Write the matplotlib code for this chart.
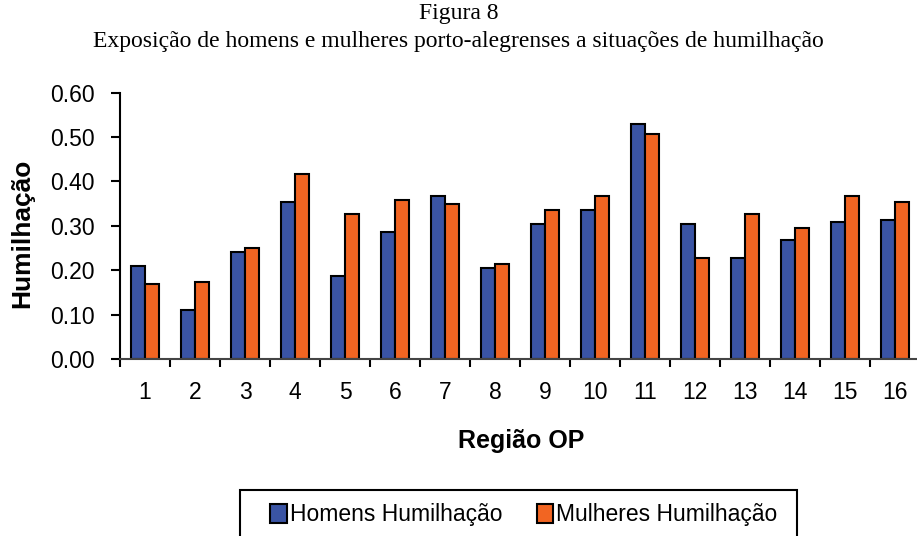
import matplotlib.pyplot as plt
import numpy as np
from matplotlib.patches import Rectangle

regioes = [str(i) for i in range(1, 17)]
homens = [0.210, 0.111, 0.242, 0.353, 0.188, 0.286, 0.367, 0.205,
          0.304, 0.336, 0.529, 0.304, 0.228, 0.268, 0.309, 0.313]
mulheres = [0.170, 0.174, 0.251, 0.416, 0.327, 0.358, 0.349, 0.215,
            0.336, 0.367, 0.507, 0.228, 0.327, 0.296, 0.367, 0.354]
yticks = [0.0, 0.1, 0.2, 0.3, 0.4, 0.5, 0.6]

azul = "#3A54A4"
laranja = "#F26522"
sans = "Liberation Sans"

W, H = 917, 536
fig = plt.figure(figsize=(W / 100, H / 100), dpi=100)
ax = fig.add_axes([120 / W, 1 - 359 / H, 800 / W, (359 - 92.7) / H])

x = np.arange(len(regioes))
bw = 0.28
ax.bar(x - bw / 2, homens, bw, color=azul, edgecolor="black", linewidth=1.5,
       label="Homens Humilhação")
ax.bar(x + bw / 2, mulheres, bw, color=laranja, edgecolor="black", linewidth=1.5,
       label="Mulheres Humilhação")

ax.set_xlim(-0.5, len(regioes) - 0.5)
ax.set_ylim(0, 0.6)
ax.set_yticks(yticks)
ax.set_yticklabels([f"{v:.2f}" for v in yticks], fontfamily=sans, fontsize=16.5)
ax.set_xticks(x)
ax.set_xticklabels(regioes, fontfamily=sans, fontsize=16.5)
ax.set_xticks(np.arange(len(regioes)) - 0.5, minor=True)
ax.tick_params(axis="x", which="major", length=0, pad=16)
ax.tick_params(axis="x", which="minor", length=6, width=1.5, direction="out")
ax.tick_params(axis="y", length=6.5, width=1.5, direction="out", pad=12)

for s in ["top", "right"]:
    ax.spines[s].set_visible(False)
ax.spines["left"].set_linewidth(1.5)
ax.spines["bottom"].set_linewidth(1.5)
ax.spines["bottom"].set_color("#444444")

fig.text(521 / W, 1 - 441 / H, "Região OP", ha="center", va="center",
         fontfamily=sans, fontsize=18, fontweight="bold")
fig.text(22 / W, 1 - 233 / H, "Humilhação", ha="center", va="center", rotation=90,
         fontfamily=sans, fontsize=19, fontweight="bold")

fig.text(0.5, 1 - 14 / H, "Figura 8", ha="center", va="center",
         fontfamily="Liberation Serif", fontsize=17)
fig.text(0.5, 1 - 41 / H,
         "Exposição de homens e mulheres porto-alegrenses a situações de humilhação",
         ha="center", va="center", fontfamily="Liberation Serif", fontsize=17)

# legend box (bottom cut off by figure edge)
fig.patches.append(Rectangle((240 / W, -0.05), (797 - 240) / W, 0.05 + 1 - 490 / H,
                             transform=fig.transFigure, fill=False,
                             edgecolor="black", linewidth=1.5))
leg = fig.legend(loc="center", bbox_to_anchor=(524 / W, 1 - 515 / H), ncol=2,
                 frameon=False, handlelength=0.7, handleheight=0.9,
                 handletextpad=0.15, columnspacing=1.5,
                 prop={"family": sans, "size": 16.5})

fig.savefig("out.png", dpi=100)
